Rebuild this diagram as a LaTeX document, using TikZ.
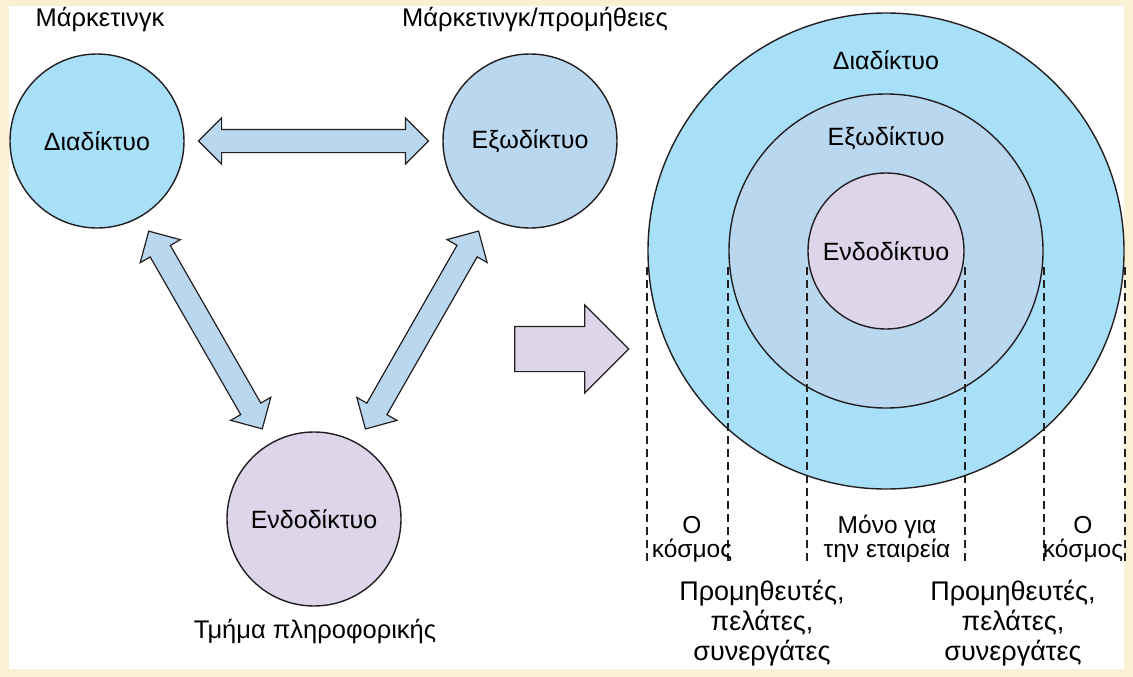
\documentclass[tikz,border=0pt]{standalone}
\usepackage{fontspec}
\setmainfont{Liberation Sans}
\usepackage{xcolor}
\usetikzlibrary{shapes.arrows}

\definecolor{cream}{RGB}{250,240,211}
\definecolor{netblue}{RGB}{168,224,249}
\definecolor{extblue}{RGB}{186,215,240}
\definecolor{intlilac}{RGB}{221,213,234}
\definecolor{edge}{RGB}{35,31,32}

\begin{document}
\begin{tikzpicture}[x=1pt, y=-1pt,
  net/.style={circle, draw=edge, line width=1.4pt, inner sep=0pt, font=\fontsize{25}{30}\selectfont},
  lbl/.style={font=\fontsize{25.5}{30}\selectfont},
  small/.style={align=center, font=\fontsize{24.5}{24}\selectfont},
  big/.style={align=center, font=\fontsize{27}{30}\selectfont},
  dblarrow/.style={double arrow, draw=edge, line width=1.2pt, fill=extblue, inner xsep=0pt,
    inner ysep=11pt, minimum width=45pt, double arrow head extend=11.5pt, double arrow tip angle=90},
  guide/.style={draw=edge, line width=1.9pt, dash pattern=on 8pt off 5pt}]
\useasboundingbox (0,0) rectangle (1133,677);
\fill[cream] (0,0) rectangle (1133,677);
\fill[white] (9,6) rectangle (1124,669);

\node[net, fill=netblue, minimum size=174pt] (dia) at (97,141) {Διαδίκτυο};
\node[net, fill=extblue, minimum size=174pt] (exo) at (530,141) {Εξωδίκτυο};
\node[net, fill=intlilac, minimum size=174pt] (endo) at (314,519) {Ενδοδίκτυο};

\node[lbl] (mkt) at (100,20) {Μάρκετινγκ};
\node[lbl] (mktsup) at (535,20) {Μάρκετινγκ/προμήθειες};
\node[lbl] (it) at (315,632) {Τμήμα πληροφορικής};

\path (dia) -- node[dblarrow, minimum height=230pt] (a1) {} (exo);
\path (dia) -- node[dblarrow, sloped, minimum height=228pt] (a2) {} (endo);
\path (exo) -- node[dblarrow, sloped, minimum height=228pt] (a3) {} (endo);

\node[single arrow, draw=edge, line width=1.2pt, fill=intlilac, inner xsep=0pt, inner ysep=22pt,
  minimum width=87pt, minimum height=114pt, single arrow head extend=21.5pt,
  single arrow tip angle=90] (go) at (560.5,349) {};

\node[net, fill=netblue, minimum size=476pt] (world) at (886,251) {};
\node[net, fill=extblue, minimum size=314pt] (partners) at (886,251) {};
\node[net, fill=intlilac, minimum size=156pt] (firm) at (886,251) {Ενδοδίκτυο};
\node[net, draw=none] (tworld) at (886,60) {Διαδίκτυο};
\node[net, draw=none] (tpartners) at (886,138) {Εξωδίκτυο};

\foreach \c/\a in {world/west, partners/west, firm/west, firm/east, partners/east, world/east}
  \draw[guide] (\c.\a) ++(0,16) -- ++(0,298);

\node[small] (w1) at (692,539) {Ο\\κόσμος};
\node[small] (own) at (887,539) {Μόνο για\\την εταιρεία};
\node[small] (w2) at (1083,539) {Ο\\κόσμος};
\node[big] (p1) at (762,623) {Προμηθευτές,\\πελάτες,\\συνεργάτες};
\node[big] (p2) at (1013,623) {Προμηθευτές,\\πελάτες,\\συνεργάτες};
\end{tikzpicture}
\end{document}
